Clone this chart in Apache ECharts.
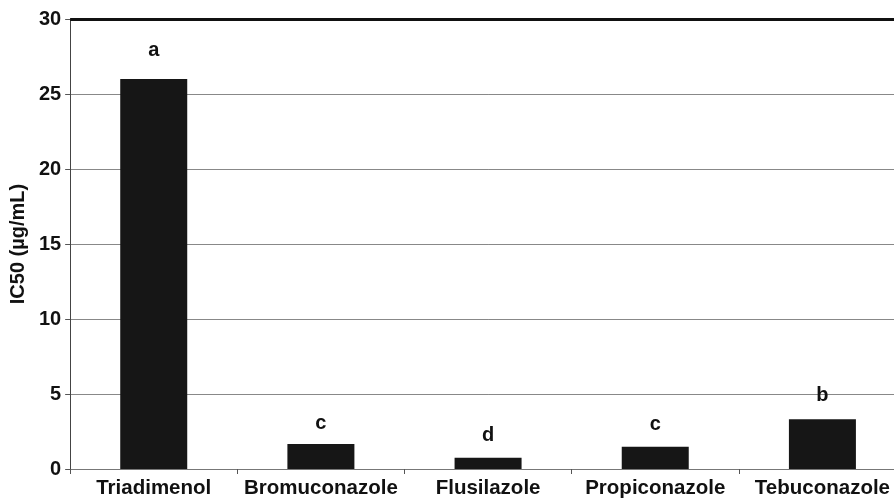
<!DOCTYPE html>
<html>
<head>
<meta charset="utf-8">
<script src="https://cdn.jsdelivr.net/npm/echarts@6/dist/echarts.min.js"></script>
<style>html,body{margin:0;padding:0;background:#fff;overflow:hidden;width:894px;height:502px;}#c{width:906px;height:502px;}</style>
</head>
<body>
<div id="c"></div>
<script>
const categories = ["Triadimenol", "Bromuconazole", "Flusilazole", "Propiconazole", "Tebuconazole"];
const values = [26.0, 1.67, 0.75, 1.49, 3.31];
const letters = ["a", "c", "d", "c", "b"];
const yTicks = [0, 5, 10, 15, 20, 25, 30];

const chart = echarts.init(document.getElementById('c'), null, {renderer: 'canvas'});
const font = 'Liberation Sans, Arial, sans-serif';
const labelGaps = [19, 10, 12, 12, 14];
chart.setOption({
  animation: false,
  backgroundColor: '#fff',
  grid: {left: 70, top: 19, right: 0, bottom: 33, containLabel: false},
  xAxis: {
    type: 'category',
    data: categories,
    axisLine: {show: true, lineStyle: {color: '#777', width: 1}},
    axisTick: {show: true, alignWithLabel: false, length: 5, lineStyle: {color: '#555'}},
    axisLabel: {color: '#111', fontFamily: font, fontWeight: 'bold', fontSize: 20.5, margin: 9, interval: 0}
  },
  yAxis: {
    type: 'value',
    min: yTicks[0],
    max: yTicks[yTicks.length - 1],
    interval: 5,
    name: 'IC50 (µg/mL)',
    nameLocation: 'middle',
    nameGap: 40,
    nameTextStyle: {color: '#111', fontFamily: font, fontWeight: 'bold', fontSize: 20},
    axisLine: {show: true, lineStyle: {color: '#444', width: 1}},
    axisTick: {show: true, length: 5, lineStyle: {color: '#555'}},
    axisLabel: {color: '#111', fontFamily: font, fontWeight: 'bold', fontSize: 20, margin: 9},
    splitLine: {show: true, lineStyle: {color: '#888', width: 1}}
  },
  series: [{
    type: 'bar',
    data: values.map((v, i) => ({value: v, label: {distance: labelGaps[i]}})),
    barWidth: 67,
    itemStyle: {color: '#161616'},
    label: {
      show: true,
      position: 'top',
      color: '#111',
      fontFamily: font,
      fontWeight: 'bold',
      fontSize: 20,
      formatter: p => letters[p.dataIndex]
    },
    markLine: {
      silent: true,
      symbol: 'none',
      label: {show: false},
      lineStyle: {color: '#111', width: 3, type: 'solid'},
      data: [{yAxis: 30}]
    }
  }]
});
</script>
</body>
</html>
